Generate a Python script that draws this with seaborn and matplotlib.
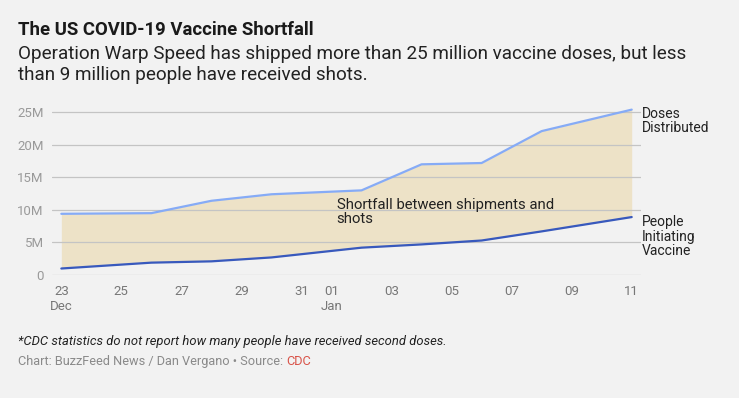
import numpy as np
import pandas as pd
import matplotlib
matplotlib.use("Agg")
import matplotlib.pyplot as plt
import matplotlib.dates as mdates
import seaborn as sns

# data (millions)
dates = ["2020-12-23", "2020-12-26", "2020-12-28", "2020-12-30", "2021-01-02",
         "2021-01-04", "2021-01-06", "2021-01-08", "2021-01-11"]
doses_distributed = [9.4, 9.5, 11.4, 12.4, 13.0, 17.0, 17.2, 22.1, 25.4]
people_initiating = [1.0, 1.9, 2.1, 2.7, 4.2, 4.7, 5.3, 6.7, 8.9]

y_ticks = [0, 5, 10, 15, 20, 25]
y_tick_labels = ["0", "5M", "10M", "15M", "20M", "25M"]
x_tick_dates = ["2020-12-23", "2020-12-25", "2020-12-27", "2020-12-29", "2020-12-31",
                "2021-01-01", "2021-01-03", "2021-01-05", "2021-01-07", "2021-01-09",
                "2021-01-11"]
x_tick_labels = ["23\nDec", "25", "27", "29", "31", "01\nJan", "03", "05", "07", "09", "11"]

df = pd.DataFrame({
    "date": pd.to_datetime(dates),
    "doses": np.array(doses_distributed) * 1e6,
    "people": np.array(people_initiating) * 1e6,
})

sns.set_theme(style="whitegrid")
plt.rcParams["font.family"] = ["Roboto", "DejaVu Sans"]

bg = "#f2f2f2"
light_blue = "#86abf6"
dark_blue = "#3859bd"

fig = plt.figure(figsize=(7.39, 3.98), dpi=100, facecolor=bg)
ax = fig.add_axes([0.0704, 0.309, 0.797, 0.427])
ax.set_facecolor(bg)

ax.fill_between(df["date"], df["people"], df["doses"], color="#ecdcb6", alpha=0.7,
                linewidth=0, zorder=1)
sns.lineplot(data=df, x="date", y="doses", color=light_blue, linewidth=1.6, ax=ax, zorder=3)
sns.lineplot(data=df, x="date", y="people", color=dark_blue, linewidth=1.6, ax=ax, zorder=3)

ax.set_axisbelow("line")
ax.grid(axis="y", color="#c4c4c4", linewidth=0.9)
ax.grid(axis="x", visible=False)
for s in ax.spines.values():
    s.set_visible(False)

ax.set_ylim(0, 26.1e6)
ax.set_yticks([v * 1e6 for v in y_ticks])
ax.set_yticklabels(y_tick_labels)
x0 = pd.Timestamp("2020-12-23")
ax.set_xlim(mdates.date2num(x0) - 0.31, mdates.date2num(pd.Timestamp("2021-01-11")) + 0.31)
ax.set_xticks(pd.to_datetime(x_tick_dates))
ax.set_xticklabels(x_tick_labels, linespacing=1.23)
ax.tick_params(axis="y", colors="#9a9a9a", labelsize=9.5, length=0, pad=6)
ax.tick_params(axis="x", colors="#777777", labelsize=9.5, length=0, pad=7)
ax.set_xlabel("")
ax.set_ylabel("")

# annotations
ax.text(pd.Timestamp("2021-01-01") + pd.Timedelta(hours=4), 11.8e6,
        "Shortfall between shipments and\nshots", fontsize=10.7, color="#222222",
        va="top", ha="left", linespacing=0.98)

last = df["date"].iloc[-1] + pd.Timedelta(hours=8)
ax.text(last, 25.85e6, "Doses\nDistributed", fontsize=10, color="#222222",
        va="top", ha="left", linespacing=1.05, clip_on=False)
ax.text(last, 9.25e6, "People\nInitiating\nVaccine", fontsize=10, color="#222222",
        va="top", ha="left", linespacing=1.07, clip_on=False)

# titles
fig.text(18 / 739, 1 - 30 / 398, "The US COVID-19 Vaccine Shortfall", fontsize=13.3,
         fontweight="bold", color="#1a1a1a", va="center", ha="left")
fig.text(18 / 739, 1 - 64.7 / 398,
         "Operation Warp Speed has shipped more than 25 million vaccine doses, but less\n"
         "than 9 million people have received shots.",
         fontsize=13.6, color="#222222", va="center", ha="left", linespacing=1.2)

# footer
fig.text(18 / 739, 1 - 342 / 398,
         "*CDC statistics do not report how many people have received second doses.",
         fontsize=9.4, style="italic", color="#222222", va="center", ha="left")
src = fig.text(18 / 739, 1 - 365 / 398, "Chart: BuzzFeed News / Dan Vergano \u2022 Source: ",
               fontsize=9.2, color="#8a8a8a", va="baseline", ha="left")
fig.canvas.draw()
bb = src.get_window_extent()
fig.text(bb.x1 / fig.bbox.width, 1 - 365 / 398, "CDC", fontsize=9.2, color="#d9544a",
         va="baseline", ha="left")

fig.savefig("out.png", dpi=100, facecolor=bg)
